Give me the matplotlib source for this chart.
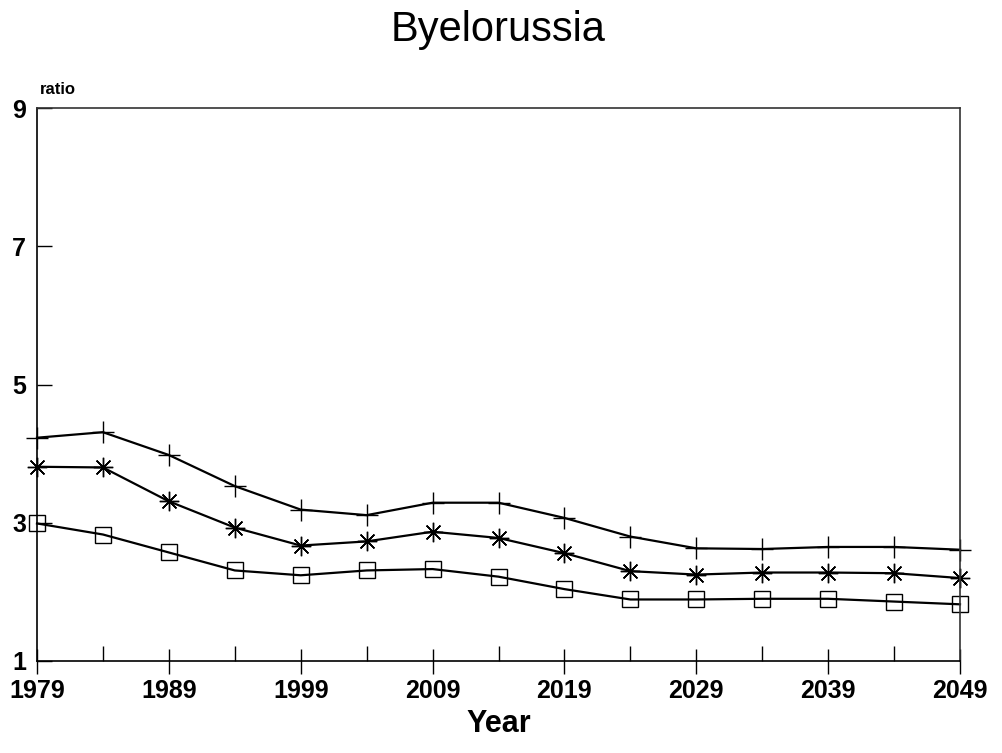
import matplotlib
matplotlib.use("Agg")
import matplotlib.pyplot as plt

plt.rcParams["font.family"] = ["Liberation Sans", "DejaVu Sans"]

# -------------------------------
# Data
# -------------------------------
years = [1979, 1984, 1989, 1994, 1999, 2004, 2009, 2014, 2019, 2024,
         2029, 2034, 2039, 2044, 2049]
plus_series = [4.23, 4.31, 3.98, 3.53, 3.19, 3.11, 3.29, 3.29, 3.07, 2.80,
               2.63, 2.62, 2.65, 2.65, 2.61]
star_series = [3.81, 3.80, 3.31, 2.93, 2.67, 2.73, 2.87, 2.78, 2.56, 2.30,
               2.25, 2.28, 2.28, 2.27, 2.20]
square_series = [2.99, 2.83, 2.57, 2.31, 2.24, 2.31, 2.33, 2.22, 2.04, 1.89,
                 1.89, 1.90, 1.90, 1.86, 1.82]

major_years = [1979, 1989, 1999, 2009, 2019, 2029, 2039, 2049]
minor_years = [1984, 1994, 2004, 2014, 2024, 2034, 2044]
y_ticks = [1, 3, 5, 7, 9]

fig = plt.figure(figsize=(10.03, 7.53), dpi=100)
ax = fig.add_axes([37 / 1003, 1 - 661 / 753, (960 - 37) / 1003, (661 - 108) / 753])

line_kw = dict(color="black", linewidth=1.6, clip_on=False)
ax.plot(years, plus_series, marker="+", markersize=16, markeredgewidth=1.0, **line_kw)
ax.plot(years, star_series, marker=(8, 2, 0), markersize=14, markeredgewidth=1.0, **line_kw)
ax.plot(years, square_series, marker="s", markersize=11, markeredgewidth=1.0,
        markerfacecolor="none", markeredgecolor="black", **line_kw)

ax.set_xlim(1979, 2049)
ax.set_ylim(1, 9)

ax.set_xticks(major_years)
ax.set_xticks(minor_years, minor=True)
ax.set_xticklabels([str(y) for y in major_years])
ax.set_yticks(y_ticks)
ax.set_yticklabels([str(v) for v in y_ticks])

ax.tick_params(axis="x", which="major", direction="inout", length=18, width=1,
               labelsize=18, pad=4)
ax.tick_params(axis="x", which="minor", direction="in", length=11, width=1)
ax.tick_params(axis="y", direction="in", length=11, width=1, labelsize=18, pad=8)
for lbl in ax.get_xticklabels() + ax.get_yticklabels():
    lbl.set_fontweight("bold")

for side in ["left", "bottom"]:
    ax.spines[side].set_linewidth(1.2)
    ax.spines[side].set_color("black")
for side in ["top", "right"]:
    ax.spines[side].set_linewidth(1.2)
    ax.spines[side].set_color("#333333")

ax.set_xlabel("Year", fontsize=22, fontweight="bold", labelpad=4)
fig.text(498 / 1003, 1 - 30 / 753, "Byelorussia", fontsize=30,
         ha="center", va="center")
fig.text(40 / 1003, 1 - 89 / 753, "ratio", fontsize=12, fontweight="bold",
         ha="left", va="center")

fig.savefig("out.png", dpi=100)
